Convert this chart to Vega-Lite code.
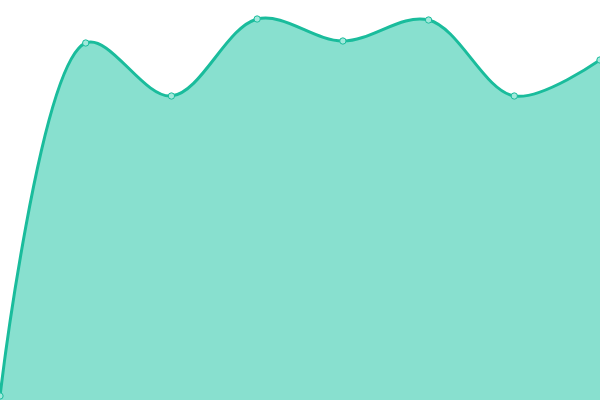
{
  "$schema": "https://vega.github.io/schema/vega-lite/v6.json",
  "autosize": {"type": "none"},
  "width": 600,
  "height": 400,
  "padding": 0,
  "config": {"view": {"stroke": null}},
  "data": {
    "values": [
      {"i": 0, "v": 1},
      {"i": 1, "v": 89.25},
      {"i": 2, "v": 76},
      {"i": 3, "v": 95.25},
      {"i": 4, "v": 89.75},
      {"i": 5, "v": 95},
      {"i": 6, "v": 76},
      {"i": 7, "v": 85}
    ]
  },
  "encoding": {
    "x": {"field": "i", "type": "quantitative", "axis": null, "scale": {"domain": [0, 7], "nice": false}},
    "y": {"field": "v", "type": "quantitative", "axis": null, "scale": {"domain": [0, 100], "nice": false}}
  },
  "layer": [
    {
      "mark": {"type": "area", "interpolate": "catmull-rom", "color": "#88e0cf", "opacity": 1, "line": {"color": "#1abc9c", "strokeWidth": 3}}
    },
    {
      "mark": {"type": "point", "filled": true, "shape": "circle", "size": 40, "fill": "#a3e9dc", "stroke": "#1abc9c", "strokeWidth": 1, "opacity": 1}
    }
  ]
}
